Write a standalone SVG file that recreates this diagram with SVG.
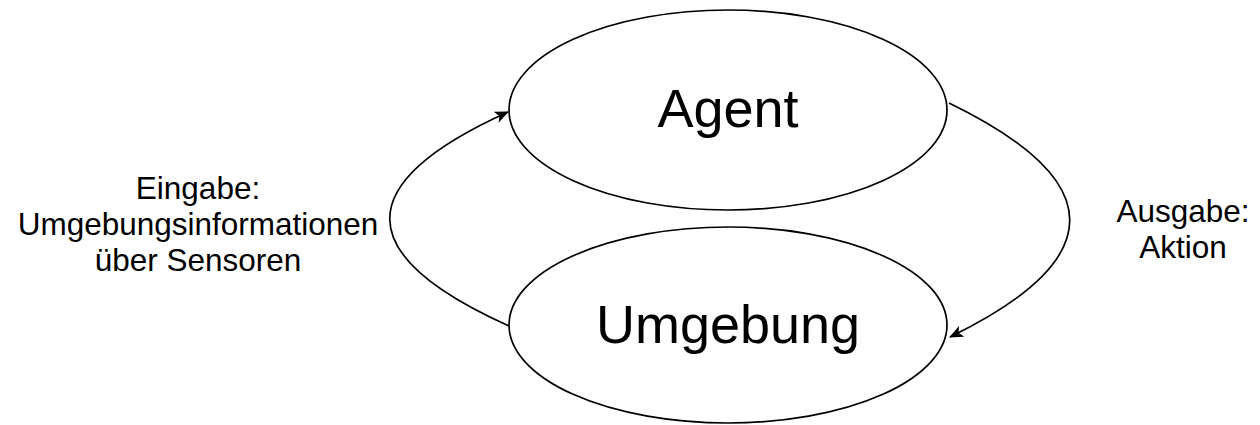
<svg xmlns="http://www.w3.org/2000/svg" width="1260" height="425" viewBox="0 0 1260 425">
  <style>
    .node { fill: #ffffff; stroke: #000000; stroke-width: 1.7; }
    .title { font-family: "Liberation Sans", Arial, sans-serif; font-size: 54px; fill: #000000; text-anchor: middle; }
    .label { font-family: "Liberation Sans", Arial, sans-serif; font-size: 31.5px; fill: #000000; text-anchor: middle; }
    .edge { fill: none; stroke: #000000; stroke-width: 1.7; }
  </style>
  <defs>
    <marker id="arrow" viewBox="0 0 14 12" refX="13" refY="6" markerWidth="14" markerHeight="12" markerUnits="userSpaceOnUse" orient="auto">
      <path d="M0,0 L14,6 L0,12 L3.5,6 Z" fill="#000000"/>
    </marker>
  </defs>
  <g id="connectors">
    <path class="edge" d="M509,326 Q271,219 508,112" marker-end="url(#arrow)"/>
    <path class="edge" d="M949,103 Q1190,220 950,337" marker-end="url(#arrow)"/>
  </g>
  <g id="node-agent">
    <ellipse class="node" cx="728" cy="110" rx="219" ry="100"/>
    <text class="title" x="728" y="127">Agent</text>
  </g>
  <g id="node-umgebung">
    <ellipse class="node" cx="728" cy="325" rx="219" ry="98"/>
    <text class="title" x="728" y="343">Umgebung</text>
  </g>
  <g id="label-eingabe">
    <text class="label" x="198" y="199">Eingabe:</text>
    <text class="label" x="198" y="235">Umgebungsinformationen</text>
    <text class="label" x="198" y="271">über Sensoren</text>
  </g>
  <g id="label-ausgabe">
    <text class="label" x="1183" y="222">Ausgabe:</text>
    <text class="label" x="1183" y="258">Aktion</text>
  </g>
</svg>
